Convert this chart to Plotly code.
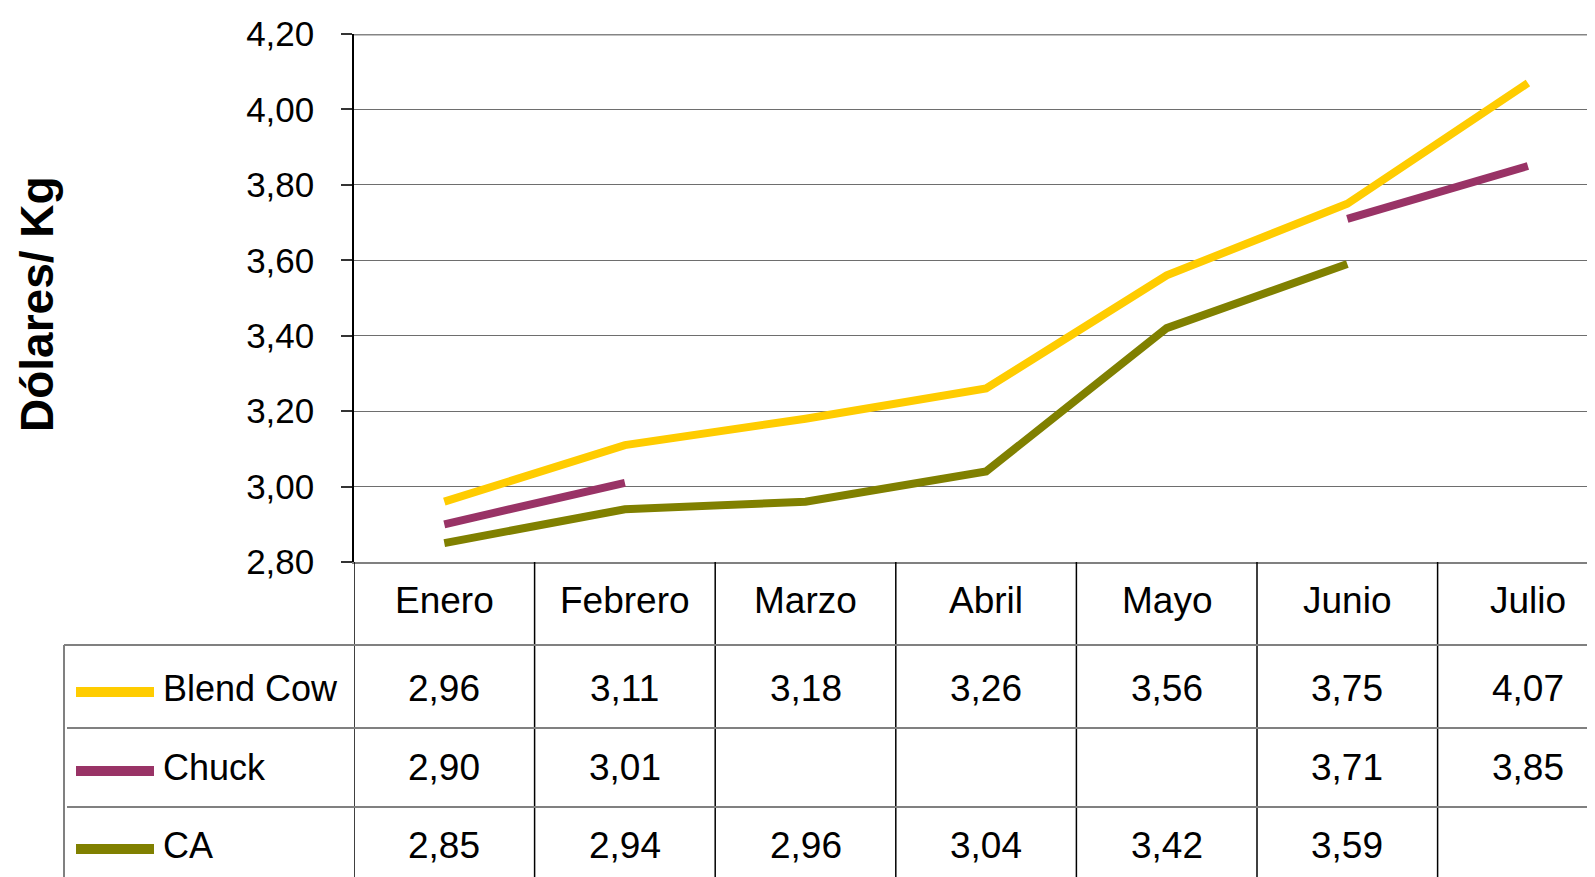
import plotly.graph_objects as go

months = ["Enero", "Febrero", "Marzo", "Abril", "Mayo", "Junio", "Julio"]
series_names = ["Blend Cow", "Chuck", "CA"]
blend_cow = [2.96, 3.11, 3.18, 3.26, 3.56, 3.75, 4.07]
chuck = [2.90, 3.01, None, None, None, 3.71, 3.85]
ca = [2.85, 2.94, 2.96, 3.04, 3.42, 3.59, None]
colors = ["#FFCC00", "#993366", "#808000"]
y_title = "Dólares/ Kg"

OFF = 8  # page body margin
W, H = 1595 + 8, 877 - OFF
ML = 354 - OFF
MT = 34 - OFF
MR = 0
MB = H - (562 - OFF)
PW = W - ML - MR
PH = H - MT - MB
COLW = 180.6

def px_x(px):
    return (px - OFF - ML) / PW

def px_y(py):
    return (H - MB - (py - OFF)) / PH

TXT = "Liberation Sans Narrow, Arial Narrow, Liberation Sans, Arial, sans-serif"
fig = go.Figure()
xs = list(range(len(months)))
for name, vals, col in zip(series_names, [blend_cow, chuck, ca], colors):
    fig.add_trace(go.Scatter(x=xs, y=vals, mode="lines", name=name,
                             line=dict(color=col, width=8), connectgaps=False,
                             showlegend=False))

shapes = []
annotations = []
row_lines_py = [645, 728, 807]
row_centers_py = [688, 767, 845]
bottom = px_y(877 + 5)

shapes.append(dict(type="line", xref="paper", yref="y", x0=0, x1=1, y0=4.2, y1=4.2,
                   line=dict(color="#858585", width=3)))
for k in range(len(months) + 1):
    shapes.append(dict(type="line", xref="x", yref="paper", x0=k - 0.5, x1=k - 0.5,
                       y0=0, y1=bottom, line=dict(color="#000000", width=1.5)))
shapes.append(dict(type="line", xref="paper", yref="paper", x0=px_x(64), x1=px_x(64),
                   y0=px_y(row_lines_py[0]), y1=bottom, line=dict(color="#808080", width=2)))
for i, py in enumerate(row_lines_py):
    shapes.append(dict(type="line", xref="paper", yref="paper", x0=px_x(64 if i == 0 else 67), x1=1,
                       y0=px_y(py), y1=px_y(py), line=dict(color="#808080", width=2)))

for k, m in enumerate(months):
    annotations.append(dict(x=k, y=px_y(600), xref="x", yref="paper", text=m, showarrow=False,
                            xanchor="center", yanchor="middle",
                            font=dict(family=TXT, size=37, color="#000000")))

for r, (name, vals, col) in enumerate(zip(series_names, [blend_cow, chuck, ca], colors)):
    cy = px_y(row_centers_py[r])
    ly = px_y(row_centers_py[r] + 4)
    shapes.append(dict(type="line", xref="paper", yref="paper", x0=px_x(76), x1=px_x(154),
                       y0=ly, y1=ly, line=dict(color=col, width=10)))
    annotations.append(dict(x=px_x(161), y=cy, xref="paper", yref="paper", text=name,
                            showarrow=False, xanchor="left", yanchor="middle",
                            font=dict(family=TXT, size=36, color="#000000")))
    for k, v in enumerate(vals):
        if v is None:
            continue
        annotations.append(dict(x=k, y=cy, xref="x", yref="paper",
                                text=f"{v:.2f}".replace(".", ","), showarrow=False,
                                xanchor="center", yanchor="middle",
                                font=dict(family=TXT, size=37, color="#000000")))

annotations.append(dict(x=px_x(37), y=px_y(304), xref="paper", yref="paper", text=y_title,
                        showarrow=False, textangle=-90, xanchor="center", yanchor="middle",
                        font=dict(family="Liberation Sans, Arial, sans-serif", size=46,
                                  color="#000000", weight="bold")))

fig.update_layout(
    width=W, height=H, margin=dict(l=ML, r=MR, t=MT, b=MB, pad=0),
    paper_bgcolor="white", plot_bgcolor="white",
    separators=", ",
    shapes=shapes, annotations=annotations,
    xaxis=dict(range=[-0.5, -0.5 + PW / COLW], showticklabels=False, showgrid=False, zeroline=False,
               showline=True, linecolor="#808080", linewidth=2, ticks=""),
    yaxis=dict(range=[2.8, 4.2], tickvals=[2.8, 3.0, 3.2, 3.4, 3.6, 3.8, 4.0, 4.2],
               tickformat=".2f", showgrid=True, gridcolor="#6e6e6e", gridwidth=1.3,
               zeroline=False, showline=True, linecolor="#000000", linewidth=1.5,
               ticks="outside", ticklen=11, tickcolor="#333333", tickwidth=1.5,
               ticklabelstandoff=20,
               tickfont=dict(family=TXT, size=35, color="#000000")),
)

fig.write_html("out.html", post_script="document.documentElement.style.overflow='hidden';document.body.style.overflow='hidden';")
